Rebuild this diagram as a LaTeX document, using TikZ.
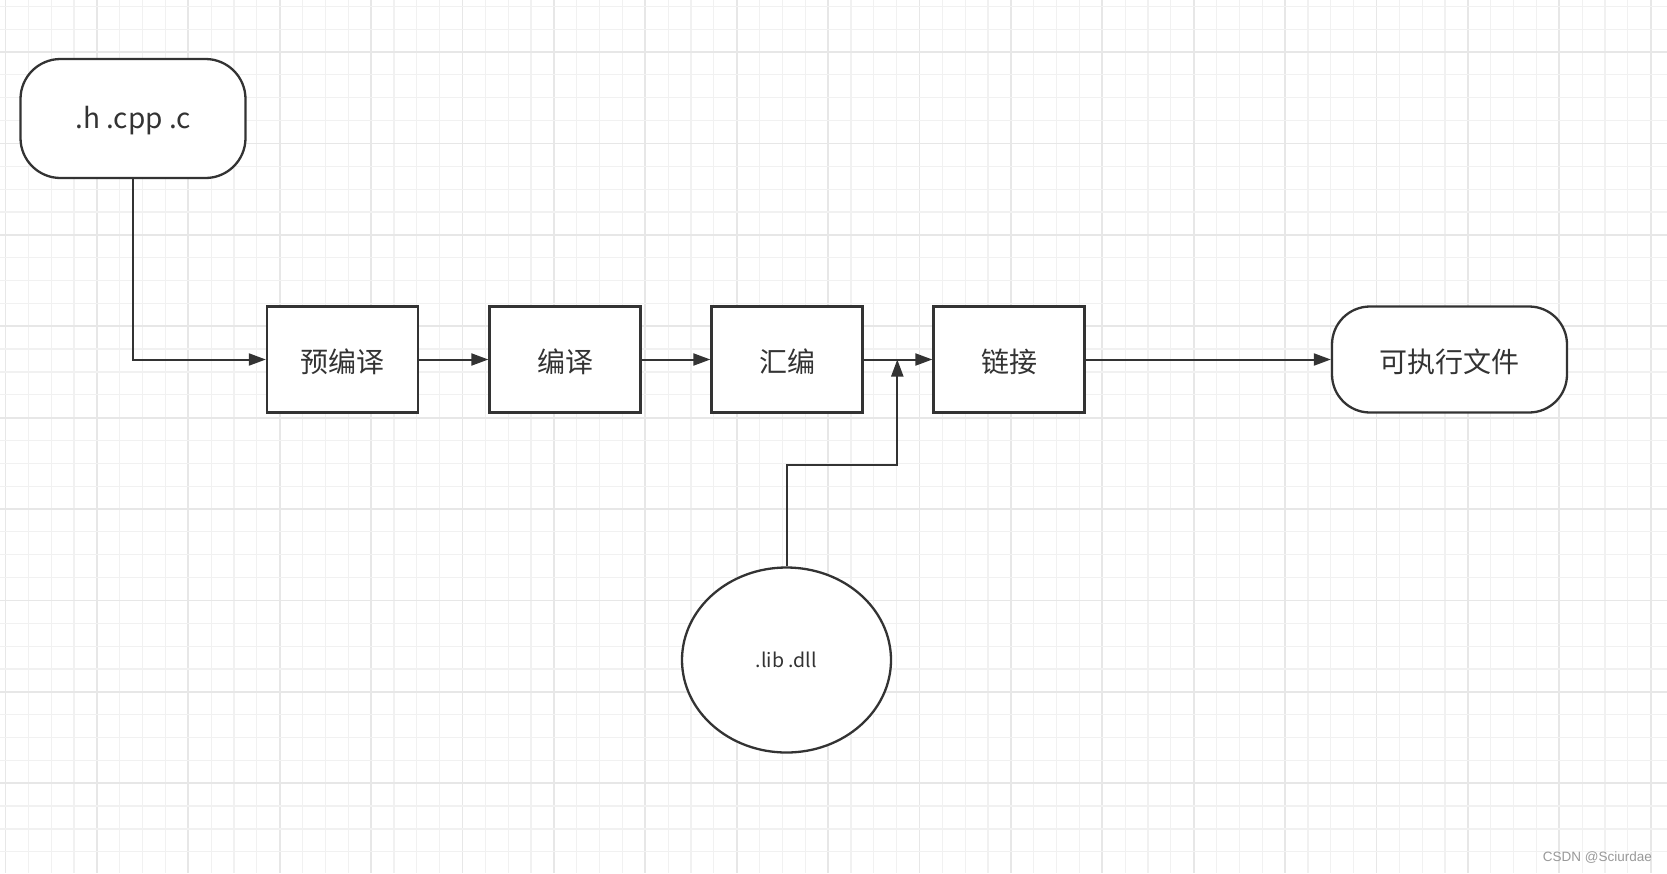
\documentclass[tikz,border=0pt]{standalone}
\usepackage{fontspec}
\newfontfamily\cjk{Noto Sans CJK SC}
\newfontfamily\wmfont{Liberation Sans}
\usetikzlibrary{arrows.meta,shapes.geometric}
\definecolor{ink}{HTML}{333333}
\definecolor{gridminor}{HTML}{F1F1F1}
\definecolor{gridmajor}{HTML}{E7E7E7}
\newcommand{\lowtext}[1]{\raisebox{-2.5pt}[\height][\depth]{#1}}
\tikzset{
  procbox/.style={draw=ink, line width=2.3pt, fill=white, minimum width=151pt, minimum height=106pt, inner sep=0pt, text=ink, font=\cjk\fontsize{28}{32}\selectfont},
  termbox/.style={procbox, rounded corners=38pt},
  libnode/.style={ellipse, draw=ink, line width=2.3pt, fill=white, minimum width=209pt, minimum height=185pt, inner sep=0pt, text=ink, font=\cjk\fontsize{19.5}{22}\selectfont},
  arr/.style={draw=ink, line width=2pt, -{Triangle[length=17pt,width=12pt]}},
  gminor/.style={draw=gridminor, line width=1.2pt},
  gmajor/.style={draw=gridmajor, line width=1.8pt},
}
\begin{document}
\begin{tikzpicture}[x=1pt,y=-1pt]
\useasboundingbox (0,0) rectangle (1667,873);
\fill[white] (0,0) rectangle (1667,873);
% grid
\foreach \i in {0,...,73} {
  \pgfmathtruncatemacro{\m}{mod(\i,4)}
  \ifnum\m=0 \draw[gmajor] (5.5+\i*22.85,0) -- (5.5+\i*22.85,873);
  \else \draw[gminor] (5.5+\i*22.85,0) -- (5.5+\i*22.85,873); \fi
}
\foreach \j in {0,...,38} {
  \pgfmathtruncatemacro{\m}{mod(\j,4)}
  \ifnum\m=2 \draw[gmajor] (0,6.3+\j*22.85) -- (1667,6.3+\j*22.85);
  \else \draw[gminor] (0,6.3+\j*22.85) -- (1667,6.3+\j*22.85); \fi
}
% nodes
\node[termbox, minimum width=225pt, minimum height=119pt, rounded corners=40pt] (src) at (133,118.5) {\lowtext{.h .cpp .c}};
\node[procbox] (pre) at (342.5,359.5) {\lowtext{预编译}};
\node[procbox] (comp) at (565,359.5) {\lowtext{编译}};
\node[procbox] (asm) at (787,359.5) {\lowtext{汇编}};
\node[procbox] (link) at (1009,359.5) {\lowtext{链接}};
\node[termbox, minimum width=235pt] (exe) at (1449.5,359.5) {\lowtext{可执行文件}};
\node[libnode] (lib) at (786.5,660) {.lib .dll};
\coordinate (join) at (897.3,359.5);
% connectors
\draw[arr] (src.south) |- (pre.west);
\draw[arr] (pre.east) -- (comp.west);
\draw[arr] (comp.east) -- (asm.west);
\draw[arr] (asm.east) -- (link.west);
\draw[arr] (lib.north) -- ++(0,-101) -| (join);
\draw[arr] (link.east) -- (exe.west);
% watermark
\node[anchor=east, text=black!40, font=\wmfont\fontsize{13.5}{15}\selectfont, inner sep=0pt] (wm) at (1652,857.5) {CSDN @Sciurdae};
\end{tikzpicture}
\end{document}
